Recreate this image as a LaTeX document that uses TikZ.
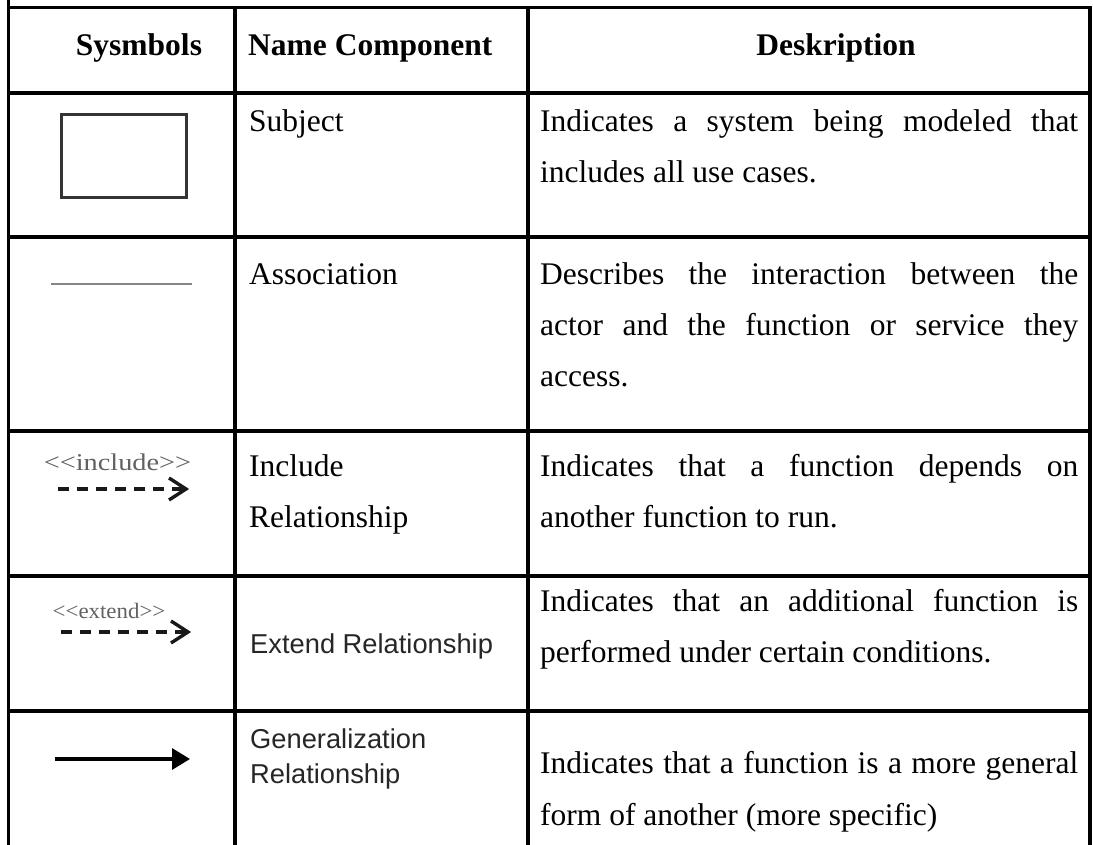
\documentclass[tikz,border=0pt]{standalone}
\usepackage{fontspec}
\setmainfont{Liberation Serif}
\newfontfamily\uisans{Liberation Sans}
\usetikzlibrary{arrows.meta}

\begin{document}
\begin{tikzpicture}[x=1pt,y=-1pt,
  grid/.style={line width=3.2pt, black, line cap=rect},
  hdr/.style={anchor=base, inner sep=0pt, font=\fontsize{31.5}{38}\selectfont\bfseries},
  namecell/.style={anchor=base west, inner sep=0pt, font=\fontsize{31.5}{38}\selectfont},
  namesans/.style={anchor=base west, inner sep=0pt, text=black!85, font=\uisans\fontsize{27.3}{33}\selectfont},
  desc/.style={anchor=base west, inner sep=0pt, font=\fontsize{31.5}{38}\selectfont},
  stereo/.style={anchor=base, inner sep=0pt, text=black!62, font=\fontsize{24}{28}\selectfont},
  dashline/.style={line width=3.2pt, black!90, dash pattern=on 11pt off 8pt},
  chevron/.style={line width=3.4pt, black!90, line join=miter, line cap=butt},
]
\useasboundingbox (0,0) rectangle (1093,845);

% ---- table rules ----
\foreach \yy in {7.4,93,237,431,576,711}
  \draw[grid] (8.5,\yy) -- (1090,\yy);
\draw[grid] (8.5,0) -- (8.5,845);
\foreach \xx in {235,528,1090}
  \draw[grid] (\xx,7.4) -- (\xx,845);

% ---- header ----
\node[hdr] (hsym)  at (139,56) {Sysmbols};
\node[hdr, anchor=base west] (hname) at (248,56) {Name Component};
\node[hdr] (hdesc) at (836,56) {Deskription};

% ---- symbols ----
\node[draw=black!80, line width=2.8pt, minimum width=125pt, minimum height=83pt,
      inner sep=0pt, anchor=north west] (subj) at (60,113) {};

\coordinate (assocA) at (51,284);
\coordinate (assocB) at (192,284);
\draw[black!48, line width=2.6pt] (assocA) -- (assocB);

\node[stereo] (inclab) at (117.5,470) {\scalebox{1.18}[1]{<\kern0pt<include>\kern0pt>}};
\coordinate (incS) at (58,489);
\coordinate (incE) at (186,489);
\draw[dashline] (incS) -- ([xshift=-2pt]incE);
\draw[chevron] ([shift={(-17,-11)}]incE) -- (incE) -- ([shift={(-17,11)}]incE);

\node[stereo, font=\fontsize{22}{26}\selectfont] (extlab) at (109,618) {\scalebox{1.04}[1]{<\kern0pt<extend>\kern0pt>}};
\coordinate (extS) at (61,632);
\coordinate (extE) at (188,632);
\draw[dashline] (extS) -- ([xshift=-2pt]extE);
\draw[chevron] ([shift={(-17,-11)}]extE) -- (extE) -- ([shift={(-17,11)}]extE);

\coordinate (genS) at (55,759);
\coordinate (genE) at (190,759);
\draw[line width=3.3pt, -{Triangle[length=18pt,width=21pt]}] (genS) -- (genE);

% ---- component names ----
\node[namecell] (n1)  at (249,132) {Subject};
\node[namecell] (n2)  at (249,284) {Association};
\node[namecell] (n3a) at (249,476) {Include};
\node[namecell] (n3b) at (249,527) {Relationship};
\node[namesans] (n4)  at (250,653) {Extend Relationship};
\node[namesans] (n5a) at (250,748) {Generalization};
\node[namesans] (n5b) at (250,783) {Relationship};

% ---- descriptions ----
\newcommand\jline[1]{\makebox[538pt][s]{#1}}
\node[desc] (d1a) at (540,132) {\jline{Indicates a system being modeled that}};
\node[desc] (d1b) at (540,183) {includes all use cases.};
\node[desc] (d2a) at (540,284) {\jline{Describes the interaction between the}};
\node[desc] (d2b) at (540,335) {\jline{actor and the function or service they}};
\node[desc] (d2c) at (540,386) {access.};
\node[desc] (d3a) at (540,476) {\jline{Indicates that a function depends on}};
\node[desc] (d3b) at (540,527) {another function to run.};
\node[desc] (d4a) at (540,611) {\jline{Indicates that an additional function is}};
\node[desc] (d4b) at (540,662) {performed under certain conditions.};
\node[desc] (d5a) at (540,773) {\jline{Indicates that a function is a more general}};
\node[desc] (d5b) at (540,825) {form of another (more specific)};
\end{tikzpicture}
\end{document}
